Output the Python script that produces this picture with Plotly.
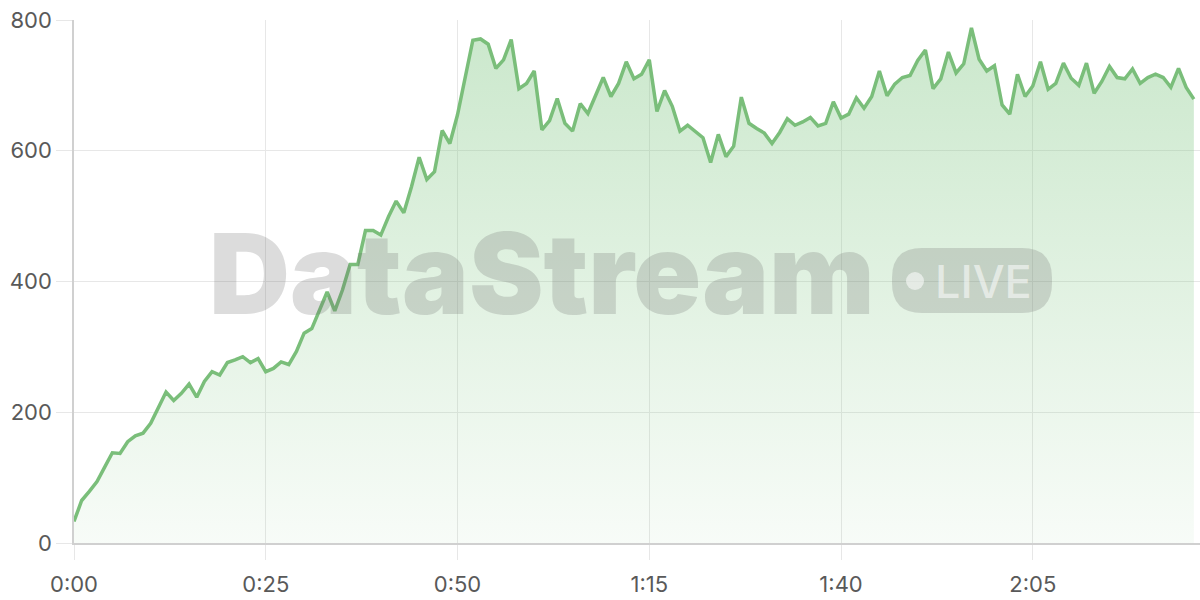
import plotly.graph_objects as go

# ---- data (one sample per second) ----
seconds = list(range(0, 147))
values = [
    33, 65, 79, 94, 116, 138, 137, 155, 164, 168,
    183, 206, 231, 218, 229, 243, 223, 247, 262, 257,
    276, 280, 285, 276, 282, 262, 267, 277, 273, 293,
    321, 328, 356, 384, 355, 387, 426, 426, 478, 478,
    471, 499, 523, 505, 545, 590, 556, 568, 631, 611,
    655, 710, 769, 771, 763, 726, 739, 770, 695, 703,
    722, 632, 646, 680, 642, 630, 672, 657, 685, 712,
    683, 703, 736, 710, 717, 739, 660, 692, 668, 630,
    639, 629, 620, 582, 625, 591, 607, 682, 642, 634,
    627, 611, 628, 649, 639, 644, 651, 638, 642, 675,
    650, 656, 681, 665, 683, 722, 684, 702, 712, 715,
    738, 754, 695, 710, 751, 719, 733, 788, 740, 722,
    730, 670, 656, 717, 683, 699, 736, 694, 703, 734,
    711, 700, 734, 688, 706, 729, 712, 710, 725, 703,
    712, 717, 712, 697, 726, 697, 679,
]
x_tickvals = [0, 25, 50, 75, 100, 125]
x_ticktext = ["0:00", "0:25", "0:50", "1:15", "1:40", "2:05"]
y_tickvals = [0, 200, 400, 600, 800]

# ---- layout geometry ----
W, H = 1200, 600
ML, MR, MT, MB = 74, 0, 20, 57
PW, PH = W - ML - MR, H - MT - MB

def px(xp):
    return (xp - ML) / PW

def py(yp):
    return (H - MB - yp) / PH

def rounded_rect(x0, y0, x1, y1, r):
    # pixel box -> paper path with rounded corners
    X0, X1 = px(x0), px(x1)
    Y0, Y1 = py(y1), py(y0)  # bottom, top in paper
    rx, ry = r / PW, r / PH
    return (
        f"M {X0+rx},{Y1} L {X1-rx},{Y1} Q {X1},{Y1} {X1},{Y1-ry} "
        f"L {X1},{Y0+ry} Q {X1},{Y0} {X1-rx},{Y0} "
        f"L {X0+rx},{Y0} Q {X0},{Y0} {X0},{Y0+ry} "
        f"L {X0},{Y1-ry} Q {X0},{Y1} {X0+rx},{Y1} Z"
    )

GREEN = "rgb(122,190,122)"
GRID = "#e7e7e7"
LABEL = "#595959"
FONT = "Inter, 'DejaVu Sans', sans-serif"

fig = go.Figure()
fig.add_trace(go.Scatter(
    x=seconds, y=values, mode="lines",
    line=dict(color=GREEN, width=3.5),
    fill="tozeroy",
    fillgradient=dict(
        type="vertical",
        start=0, stop=800,
        colorscale=[[0, "rgba(129,199,132,0.06)"], [1, "rgba(129,199,132,0.42)"]],
    ),
    hoverinfo="skip",
    showlegend=False,
))

WM = "rgba(110,110,110,0.24)"
fig.add_annotation(
    xref="paper", yref="paper", x=px(542), y=py(273),
    text="DataStream", showarrow=False,
    font=dict(family=FONT, size=112, color=WM, weight=900),
    xanchor="center", yanchor="middle",
)
fig.add_shape(
    type="path", xref="paper", yref="paper",
    path=rounded_rect(892, 248, 1052, 313, 30),
    fillcolor=WM, line=dict(width=0), layer="above",
)
fig.add_shape(
    type="circle", xref="paper", yref="paper",
    x0=px(906), x1=px(924), y0=py(290), y1=py(272),
    fillcolor="rgba(255,255,255,0.55)", line=dict(width=0), layer="above",
)
fig.add_annotation(
    xref="paper", yref="paper", x=px(984), y=py(281),
    text="LIVE", showarrow=False,
    font=dict(family=FONT, size=45, color="rgba(255,255,255,0.55)", weight=500),
    xanchor="center", yanchor="middle",
)

fig.update_layout(
    width=W, height=H,
    margin=dict(l=ML, r=MR, t=MT, b=MB),
    paper_bgcolor="white", plot_bgcolor="white",
    showlegend=False,
    font=dict(family=FONT),
    xaxis=dict(
        range=[0, 146.8], tickvals=x_tickvals, ticktext=x_ticktext,
        showgrid=True, gridcolor=GRID, gridwidth=1.2,
        ticks="outside", ticklen=15, tickcolor=GRID, tickwidth=1.2,
        showline=True, linecolor="#d0d0d0", linewidth=1.5,
        zeroline=False, tickfont=dict(size=22, color=LABEL),
        ticklabelstandoff=6,
        fixedrange=True,
    ),
    yaxis=dict(
        range=[0, 800], tickvals=y_tickvals,
        showgrid=True, gridcolor=GRID, gridwidth=1.2,
        ticks="outside", ticklen=16, tickcolor=GRID, tickwidth=1.2,
        showline=True, linecolor="#d0d0d0", linewidth=1.5,
        zeroline=False, tickfont=dict(size=22, color=LABEL),
        fixedrange=True,
    ),
)

fig.write_html(
    "out.html",
    config={"displayModeBar": False},
    post_script="document.body.style.margin='0px';document.body.style.padding='0px';",
)
